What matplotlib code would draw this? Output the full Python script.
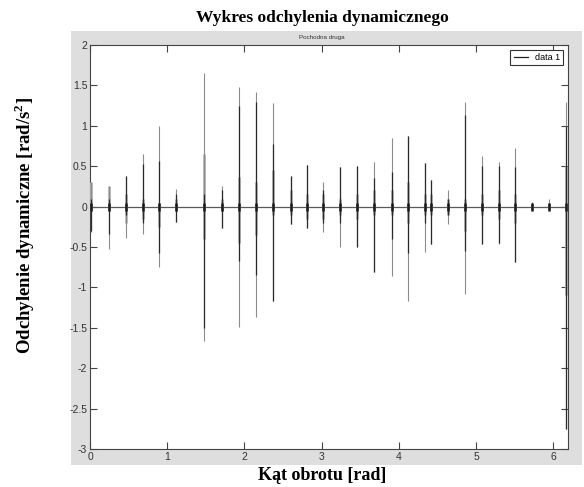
import matplotlib
matplotlib.use("Agg")
import matplotlib.pyplot as plt
from matplotlib.patches import Rectangle

plt.rcParams['mathtext.fontset'] = 'custom'
plt.rcParams['mathtext.rm'] = 'Liberation Serif'
plt.rcParams['mathtext.bf'] = 'Liberation Serif:bold'

# ---- data ----
spike_x = [0.01, 0.25, 0.46, 0.68, 0.89, 1.11, 1.48, 1.71, 1.93, 2.15, 2.37, 2.60,
           2.81, 3.02, 3.24, 3.46, 3.68, 3.91, 4.12, 4.34, 4.42, 4.64, 4.85, 5.07,
           5.29, 5.51, 5.73, 5.95, 6.16]
peak_hi = [0.30, 0.25, 0.38, 0.65, 1.00, 0.22, 1.65, 0.26, 1.48, 1.42, 1.28, 0.38,
           0.52, 0.31, 0.49, 0.50, 0.55, 0.85, 0.87, 0.54, 0.33, 0.21, 1.29, 0.63,
           0.55, 0.72, 0.06, 0.09, 1.29]
peak_lo = [-0.32, -0.53, -0.39, -0.34, -0.75, -0.19, -1.66, -0.27, -1.49, -1.37, -1.17, -0.21,
           -0.27, -0.31, -0.50, -0.50, -0.81, -0.86, -1.17, -0.56, -0.46, -0.21, -1.08, -0.46,
           -0.46, -0.68, -0.06, -0.05, -2.75]
core_hi = [0.10, 0.10, 0.38, 0.53, 0.57, 0.15, 0.15, 0.20, 1.24, 1.30, 0.77, 0.38,
           0.52, 0.20, 0.49, 0.50, 0.35, 0.43, 0.87, 0.54, 0.33, 0.10, 1.13, 0.50,
           0.50, 0.49, 0.04, 0.05, 1.00]
core_lo = [-0.30, -0.34, -0.10, -0.20, -0.58, -0.19, -1.50, -0.27, -0.67, -0.85, -1.17, -0.21,
           -0.27, -0.20, -0.20, -0.50, -0.81, -0.40, -0.58, -0.20, -0.46, -0.10, -0.55, -0.46,
           -0.45, -0.68, -0.04, -0.04, -2.75]
blob_hi = [0.30, 0.25, 0.15, 0.10, 0.05, 0.10, 0.65, 0.10, 0.37, 0.30, 0.45, 0.20,
           0.15, 0.15, 0.10, 0.15, 0.20, 0.20, 0.30, 0.15, 0.15, 0.10, 0.10, 0.15,
           0.20, 0.15, 0.03, 0.03, 0.50]
blob_lo = [-0.05, -0.05, -0.20, -0.15, -0.25, -0.05, -0.40, -0.05, -0.45, -0.35, -0.10, -0.10,
           -0.15, -0.15, -0.10, -0.15, -0.10, -0.10, -0.20, -0.10, -0.10, -0.10, -0.30, -0.10,
           -0.15, -0.20, -0.03, -0.03, -1.10]
x_range = [0.0, 6.19]
base_y = [0.0, 0.0]
x_ticks = [0, 1, 2, 3, 4, 5, 6]
y_ticks = [2, 1.5, 1, 0.5, 0, -0.5, -1, -1.5, -2, -2.5, -3]
y_ticklabels = ['2', '1.5', '1', '0.5', '0', '-0.5', '-1', '-1.5', '-2', '-2.5', '-3']

W, H = 584, 487
fig = plt.figure(figsize=(W / 100, H / 100), dpi=100)
fig.patch.set_facecolor('white')

# MATLAB figure gray panel
fig.patches.append(Rectangle((71 / W, 1 - 465 / H), (582 - 71) / W, (465 - 31) / H,
                             transform=fig.transFigure, facecolor='#dedede',
                             edgecolor='none', zorder=-5))

ax = fig.add_axes([90 / W, 1 - 449 / H, (568 - 90) / W, (449 - 45) / H])
ax.set_zorder(2)
ax.set_facecolor('white')

line, = ax.plot(x_range, base_y, color='#5a5a5a', lw=0.9, label='data 1', zorder=2)
ax.vlines(spike_x, blob_lo, blob_hi, color='#b4b4b4', lw=2.0, zorder=3)
ax.vlines(spike_x, peak_lo, peak_hi, color='#8c8c8c', lw=0.8, zorder=4)
ax.vlines(spike_x, core_lo, core_hi, color='#2a2a2a', lw=0.9, zorder=5)
ax.vlines(spike_x, [-0.05] * len(spike_x), [0.05] * len(spike_x), color='#1a1a1a', lw=1.8, zorder=6)

ax.set_xlim(x_range)
ax.set_ylim(-3, 2)
ax.set_xticks(x_ticks)
ax.set_xticklabels([str(t) for t in x_ticks])
ax.set_yticks(y_ticks)
ax.set_yticklabels(y_ticklabels)
ax.tick_params(direction='in', length=5, width=0.8, colors='#444444',
               top=True, right=True, labelsize=7.5, pad=2)
for lab in ax.get_xticklabels() + ax.get_yticklabels():
    lab.set_fontfamily('Liberation Sans')
    lab.set_color('#333333')
for s in ax.spines.values():
    s.set_color('#444444')
    s.set_linewidth(0.8)

leg = ax.legend(handles=[line], loc='upper right', fancybox=False,
                edgecolor='#333333', framealpha=1, handlelength=1.6,
                borderaxespad=0.5, borderpad=0.35, prop={'family': 'Liberation Sans', 'size': 6.5})
leg.get_frame().set_linewidth(0.8)
for h in leg.legend_handles:
    h.set_color('#222222')

fig.text(322 / W, 1 - 18 / H, 'Wykres odchylenia dynamicznego', ha='center', va='center',
         fontfamily='Liberation Serif', fontweight='bold', fontsize=12.5)
fig.text(322 / W, 1 - 37 / H, 'Pochodna druga', ha='center', va='center',
         fontfamily='Liberation Sans', fontsize=4.5, color='#333333')
fig.text(25 / W, 1 - 226 / H, r'Odchylenie dynamiczne [rad/s$^{\mathbf{2}}$]', ha='center',
         va='center', rotation=90, fontfamily='Liberation Serif', fontweight='bold', fontsize=13.5)
fig.text(322 / W, 1 - 476 / H, 'Kąt obrotu [rad]', ha='center', va='center',
         fontfamily='Liberation Serif', fontweight='bold', fontsize=13)

fig.savefig('out.png', dpi=100)
